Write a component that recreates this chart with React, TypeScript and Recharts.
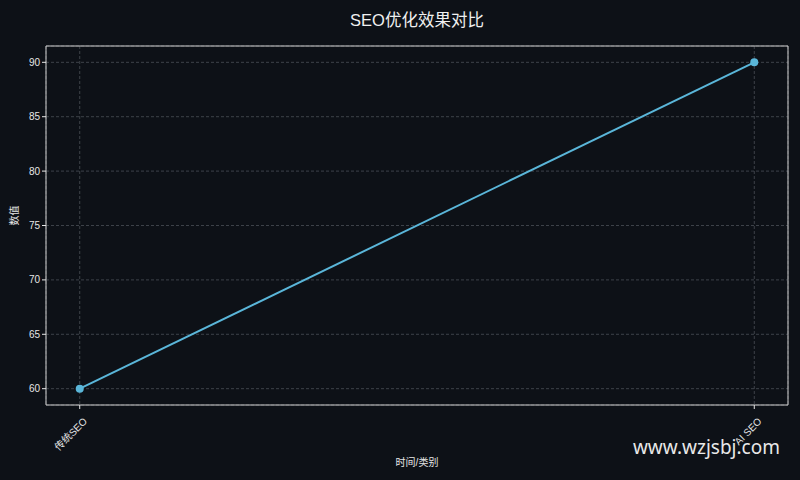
import * as React from "react";
import {
  LineChart,
  Line,
  XAxis,
  YAxis,
  CartesianGrid,
  ReferenceArea,
  Label,
} from "recharts";

const categories = ["传统SEO", "AI SEO"];
const values = [60, 90];
const yTicks = [60, 65, 70, 75, 80, 85, 90];

const data = categories.map((name, i) => ({ idx: i, name, value: values[i] }));

const BG = "#0d1117";
const LINE = "#5ab6d9";
const FONT = "'Liberation Sans', 'Noto Sans CJK SC', sans-serif";

function XTick(props: any) {
  const { x, y, payload } = props;
  return (
    <text
      x={x + 3}
      y={y + 6}
      fill="#e6e6e6"
      fontSize={10}
      fontFamily={FONT}
      textAnchor="end"
      dominantBaseline="hanging"
      transform={`rotate(-45, ${x + 3}, ${y + 6})`}
    >
      {categories[payload.value]}
    </text>
  );
}

export default function App() {
  return (
    <div
      style={{
        position: "fixed",
        left: 0,
        top: 0,
        width: 800,
        height: 480,
        background: BG,
        fontFamily: FONT,
      }}
    >
      <div
        style={{
          position: "absolute",
          left: 0,
          width: 834,
          top: 7,
          textAlign: "center",
          color: "#f0f0f0",
          fontSize: 16.5,
        }}
      >
        SEO优化效果对比
      </div>
      <LineChart
        width={800}
        height={480}
        data={data}
        margin={{ top: 46, right: 12, bottom: 0, left: 0 }}
      >
        <CartesianGrid stroke="#4a4f57" strokeDasharray="3 2" strokeWidth={0.8} />
        <XAxis
          dataKey="idx"
          type="number"
          domain={[-0.05, 1.05]}
          ticks={[0, 1]}
          height={75}
          tick={<XTick />}
          tickSize={4}
          tickLine={{ stroke: "#e6e6e6" }}
          axisLine={false}
          interval={0}
        >
          <Label
            value="时间/类别"
            position="insideBottom"
            offset={14}
            fill="#e6e6e6"
            fontSize={10}
            fontFamily={FONT}
          />
        </XAxis>
        <YAxis
          type="number"
          domain={[58.5, 91.5]}
          ticks={yTicks}
          width={46}
          tickSize={4}
          tick={{ fill: "#e6e6e6", fontSize: 10, fontFamily: FONT }}
          tickLine={{ stroke: "#e6e6e6" }}
          axisLine={false}
        >
          <Label
            value="数值"
            angle={-90}
            position="insideLeft"
            offset={14}
            fill="#e6e6e6"
            fontSize={10}
            fontFamily={FONT}
          />
        </YAxis>
        <ReferenceArea
          x1={-0.05}
          x2={1.05}
          y1={58.5}
          y2={91.5}
          fill="none"
          stroke="#d0d0d0"
          strokeWidth={1}
          ifOverflow="visible"
        />
        <Line
          dataKey="value"
          stroke={LINE}
          strokeWidth={2}
          dot={{ r: 4, fill: LINE, stroke: LINE, strokeWidth: 0 }}
          isAnimationActive={false}
        />
      </LineChart>
      <div
        style={{
          position: "absolute",
          right: 20,
          top: 434,
          color: "#e8e8e8",
          fontSize: 19,
          fontFamily: "'Noto Sans', sans-serif",
        }}
      >
        www.wzjsbj.com
      </div>
    </div>
  );
}
